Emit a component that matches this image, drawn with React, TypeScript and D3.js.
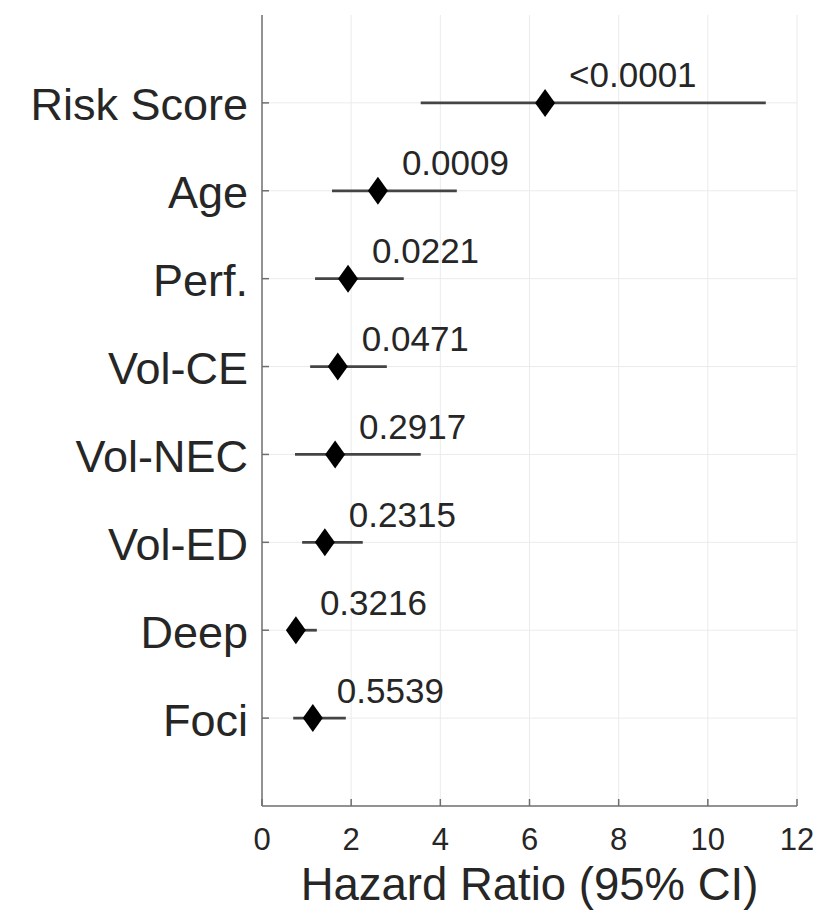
import React from "react";
import * as d3 from "d3";

// Cox model covariates, top to bottom
const covariates = ["Risk Score", "Age", "Perf.", "Vol-CE", "Vol-NEC", "Vol-ED", "Deep", "Foci"];
const hazardRatio = [6.35, 2.6, 1.93, 1.7, 1.64, 1.41, 0.76, 1.14];
const ciLower = [3.56, 1.57, 1.19, 1.08, 0.74, 0.9, 0.6, 0.7];
const ciUpper = [11.3, 4.37, 3.18, 2.8, 3.56, 2.26, 1.23, 1.88];
const pValues = ["<0.0001", "0.0009", "0.0221", "0.0471", "0.2917", "0.2315", "0.3216", "0.5539"];
const xTicks = [0, 2, 4, 6, 8, 10, 12];

const W = 815;
const H = 912;
const left = 262;
const right = 797;
const top = 15;
const bottom = 806;
const textColor = "#262626";
const font = "'Liberation Sans', Arial, sans-serif";

export default function App() {
  const x = d3.scaleLinear().domain([0, 12]).range([left, right]);
  const y = d3.scaleLinear().domain([0, covariates.length + 1]).range([top, bottom]);
  const rowY = (i: number) => y(i + 1);

  const diamond = (cx: number, cy: number) => {
    const hw = 10;
    const hh = 14;
    return d3.line()([
      [cx, cy - hh],
      [cx + hw, cy],
      [cx, cy + hh],
      [cx - hw, cy],
    ]) + "Z";
  };

  return (
    <svg
      width={W}
      height={H}
      style={{ position: "absolute", left: 0, top: 0, background: "#fff" }}
      fontFamily={font}
    >
      {/* grid */}
      <g stroke="#ebebeb" strokeWidth={1}>
        {xTicks.slice(1).map((t) => (
          <line key={"gx" + t} x1={x(t)} x2={x(t)} y1={top} y2={bottom} />
        ))}
        {covariates.map((c, i) => (
          <line key={"gy" + c} x1={left} x2={right} y1={rowY(i)} y2={rowY(i)} />
        ))}
      </g>

      {/* axes */}
      <g stroke="#6e6e6e" strokeWidth={1.5} fill="none">
        <line x1={left} x2={left} y1={top} y2={bottom} />
        <line x1={left} x2={right} y1={bottom} y2={bottom} />
        {xTicks.map((t) => (
          <line key={"tx" + t} x1={x(t)} x2={x(t)} y1={bottom} y2={bottom - 7} />
        ))}
        {covariates.map((c, i) => (
          <line key={"ty" + c} x1={left} x2={left + 7} y1={rowY(i)} y2={rowY(i)} />
        ))}
      </g>

      {/* x tick labels */}
      {xTicks.map((t) => (
        <text
          key={"lx" + t}
          x={x(t)}
          y={850}
          textAnchor="middle"
          fontSize={31}
          fill={textColor}
        >
          {t}
        </text>
      ))}

      {/* category labels */}
      {covariates.map((c, i) => (
        <text
          key={"ly" + c}
          x={left - 14}
          y={rowY(i) + 17.5}
          textAnchor="end"
          fontSize={45}
          fill={textColor}
        >
          {c}
        </text>
      ))}

      {/* confidence intervals */}
      <g stroke="#444" strokeWidth={2.8}>
        {covariates.map((c, i) => (
          <line
            key={"ci" + c}
            x1={x(ciLower[i])}
            x2={x(ciUpper[i])}
            y1={rowY(i)}
            y2={rowY(i)}
          />
        ))}
      </g>

      {/* point estimates */}
      {covariates.map((c, i) => (
        <path key={"hr" + c} d={diamond(x(hazardRatio[i]), rowY(i))} fill="#000" />
      ))}

      {/* p-values */}
      {covariates.map((c, i) => (
        <text
          key={"p" + c}
          x={x(hazardRatio[i]) + 24}
          y={rowY(i) - 15.5}
          fontSize={35}
          fill={textColor}
        >
          {pValues[i]}
        </text>
      ))}

      {/* x axis title */}
      <text
        x={(left + right) / 2}
        y={900}
        textAnchor="middle"
        fontSize={45.5}
        fill={textColor}
      >
        Hazard Ratio (95% CI)
      </text>
    </svg>
  );
}
